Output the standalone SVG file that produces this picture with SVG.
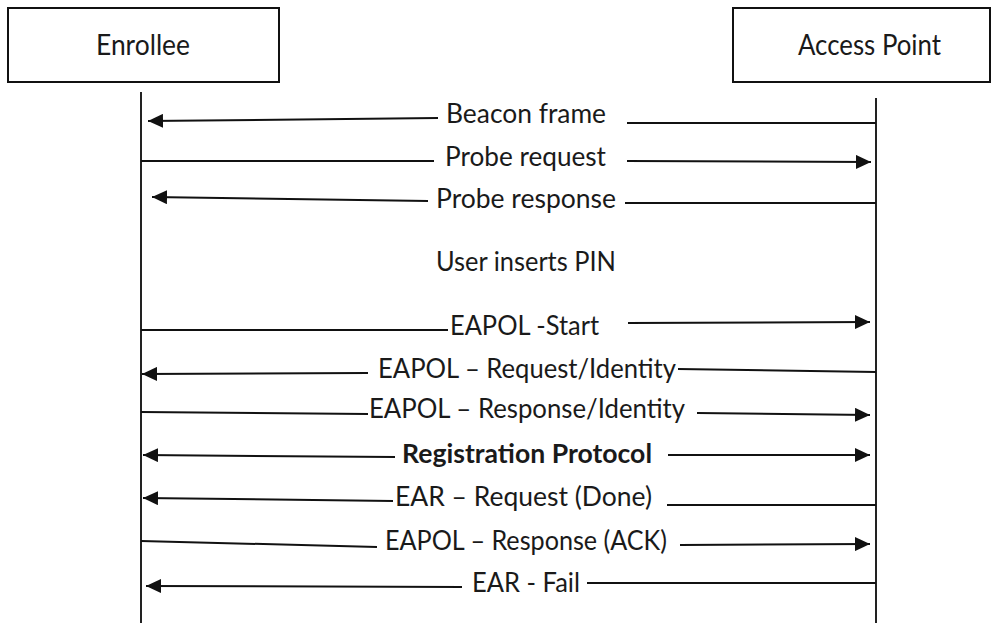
<svg xmlns="http://www.w3.org/2000/svg" width="998" height="623" viewBox="0 0 998 623">
<defs>
<marker id="ah" markerUnits="userSpaceOnUse" markerWidth="16" markerHeight="14" refX="15" refY="7" orient="auto">
<path d="M0,0 L15,7 L0,14 Z" fill="#111"/>
</marker>
<style>
.box{fill:#fff;stroke:#111;stroke-width:2}
.life{stroke:#222;stroke-width:2;fill:none}
.msg{stroke:#111;stroke-width:2;fill:none}
.arr{marker-end:url(#ah)}
.t{font-family:Lato,"Open Sans","Liberation Sans",sans-serif;font-size:26px;fill:#1a1a1a}
.h{font-size:28px}
.b{font-weight:bold}
</style>
</defs>
<rect width="998" height="623" fill="#fff"/>
<g id="enrollee">
<rect class="box" x="8" y="8" width="271" height="74"/>
<text class="t h" x="96" y="55" textLength="94" lengthAdjust="spacingAndGlyphs">Enrollee</text>
</g>
<g id="access-point">
<rect class="box" x="733" y="8" width="257" height="74"/>
<text class="t h" x="798" y="55" textLength="143" lengthAdjust="spacingAndGlyphs">Access Point</text>
</g>
<g id="lifelines">
<line class="life" x1="141" y1="92" x2="141" y2="623"/>
<line class="life" x1="876" y1="98" x2="876" y2="623"/>
</g>
<g id="connectors">
<line class="msg" x1="876" y1="123" x2="627" y2="123"/>
<line class="msg arr" x1="438" y1="118" x2="148" y2="121"/>
<line class="msg" x1="141" y1="161" x2="434" y2="161"/>
<line class="msg arr" x1="627" y1="161" x2="871" y2="162"/>
<line class="msg" x1="876" y1="203" x2="625" y2="203"/>
<line class="msg arr" x1="428" y1="201" x2="152" y2="197"/>
<line class="msg" x1="141" y1="330" x2="448" y2="330"/>
<line class="msg arr" x1="628" y1="323" x2="870" y2="322"/>
<line class="msg" x1="876" y1="372" x2="678" y2="369"/>
<line class="msg arr" x1="368" y1="373" x2="142" y2="374"/>
<line class="msg" x1="141" y1="412" x2="368" y2="414"/>
<line class="msg arr" x1="697" y1="413" x2="870" y2="415"/>
<line class="msg arr" x1="395" y1="457" x2="143" y2="455"/>
<line class="msg arr" x1="668" y1="455" x2="870" y2="455"/>
<line class="msg" x1="876" y1="505" x2="667" y2="505"/>
<line class="msg arr" x1="393" y1="501" x2="143" y2="498"/>
<line class="msg" x1="141" y1="541" x2="377" y2="547"/>
<line class="msg arr" x1="680" y1="545" x2="870" y2="544"/>
<line class="msg" x1="876" y1="583" x2="587" y2="583"/>
<line class="msg arr" x1="462" y1="587" x2="146" y2="586"/>
</g>
<g id="labels">
<text class="t" x="446" y="123" textLength="160" lengthAdjust="spacingAndGlyphs">Beacon frame</text>
<text class="t" x="445" y="166" textLength="161" lengthAdjust="spacingAndGlyphs">Probe request</text>
<text class="t" x="436" y="208" textLength="180" lengthAdjust="spacingAndGlyphs">Probe response</text>
<text class="t" x="436" y="271" textLength="180" lengthAdjust="spacingAndGlyphs">User inserts PIN</text>
<text class="t" x="450" y="335" textLength="149" lengthAdjust="spacingAndGlyphs">EAPOL -Start</text>
<text class="t" x="378" y="378" textLength="298" lengthAdjust="spacingAndGlyphs">EAPOL – Request/Identity</text>
<text class="t" x="369" y="418" textLength="316" lengthAdjust="spacingAndGlyphs">EAPOL – Response/Identity</text>
<text class="t b" x="402" y="463" textLength="250" lengthAdjust="spacingAndGlyphs">Registration Protocol</text>
<text class="t" x="395" y="506" textLength="257" lengthAdjust="spacingAndGlyphs">EAR – Request (Done)</text>
<text class="t" x="385" y="550" textLength="282" lengthAdjust="spacingAndGlyphs">EAPOL – Response (ACK)</text>
<text class="t" x="472" y="592" textLength="108" lengthAdjust="spacingAndGlyphs">EAR - Fail</text>
</g>
</svg>
